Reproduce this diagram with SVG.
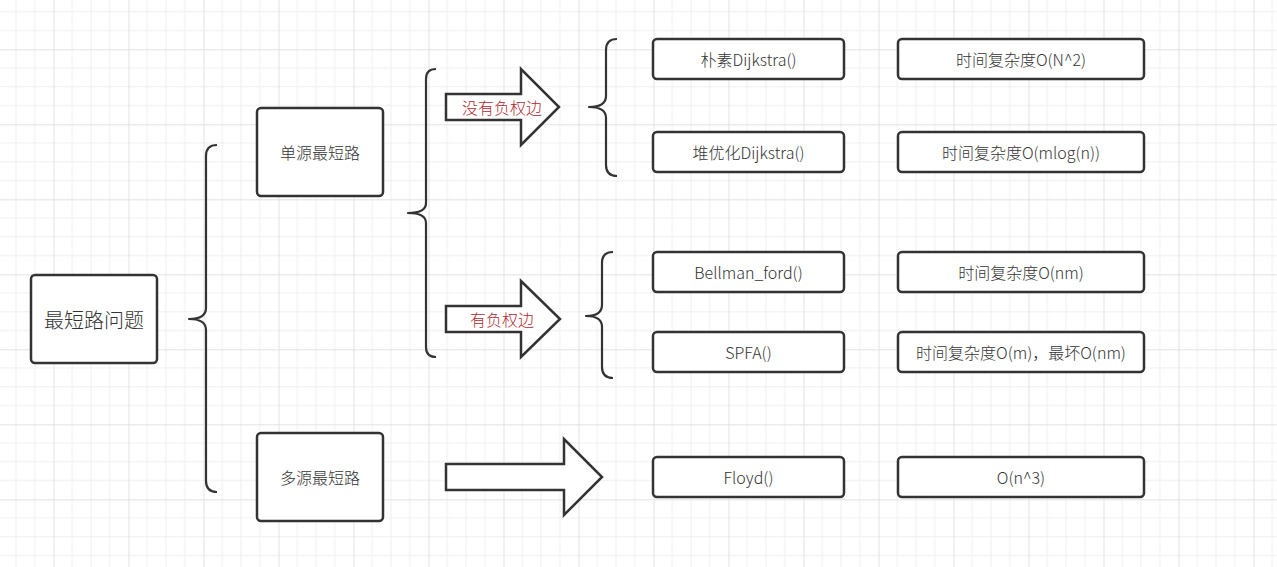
<svg xmlns="http://www.w3.org/2000/svg" width="1277" height="567" viewBox="0 0 1277 567">
<defs>
<pattern id="grid" x="-21.5" y="-25.7" width="75" height="75" patternUnits="userSpaceOnUse">
<path d="M18.75,0V75M37.5,0V75M56.25,0V75M0,18.75H75M0,37.5H75M0,56.25H75" stroke="#efefef" stroke-width="1" fill="none"/>
<path d="M0.5,0V75M0,0.5H75" stroke="#e2e2e2" stroke-width="1" fill="none"/>
</pattern>
<style>
.box{fill:#fff;stroke:#333;stroke-width:2.5}
.t{font-family:"Noto Sans CJK SC","Liberation Sans",sans-serif;font-size:16px;font-weight:300;fill:#333;text-anchor:middle;dominant-baseline:central}
.big{font-size:20px}
.red{fill:#b02a30}
.brace{fill:none;stroke:#333;stroke-width:2.2;stroke-linejoin:round}
.arrow{fill:#fff;stroke:#333;stroke-width:2.5;stroke-linejoin:miter}
</style>
</defs>
<rect width="1277" height="567" fill="#fff"/>
<rect width="1277" height="567" fill="url(#grid)"/>

<g id="connectors">
<path class="brace" d="M217,145 Q206,145 206,156 L206,308 Q206,319 189,319 Q206,319 206,330 L206,481 Q206,492 217,492"/>
<path class="brace" d="M436,69 Q426,69 426,79 L426,203 Q426,213 408,213 Q426,213 426,223 L426,347 Q426,357 436,357"/>
<path class="brace" d="M617,39 Q606,39 606,50 L606,96 Q606,107 589,107 Q606,107 606,118 L606,165 Q606,176 617,176"/>
<path class="brace" d="M613,252 Q602,252 602,263 L602,305 Q602,316 586,316 Q602,316 602,327 L602,367 Q602,378 613,378"/>
<g id="arrow1"><polygon class="arrow" points="446,94 521,94 521,69 559,107 521,145 521,120 446,120"/>
<text class="t red" x="502" y="107">没有负权边</text></g>
<g id="arrow2"><polygon class="arrow" points="446,306 521,306 521,281 560,319 521,357 521,332 446,332"/>
<text class="t red" x="502" y="319">有负权边</text></g>
<g id="arrow3"><polygon class="arrow" points="446,464 564,464 564,439 602,477 564,515 564,490 446,490"/></g>
</g>

<g id="root"><rect class="box" x="31" y="275" width="126" height="88" rx="4"/><text class="t big" x="94" y="319">最短路问题</text></g>
<g id="single"><rect class="box" x="257" y="108" width="126" height="88" rx="4"/><text class="t" x="320" y="152">单源最短路</text></g>
<g id="multi"><rect class="box" x="257" y="433" width="126" height="88" rx="4"/><text class="t" x="320" y="477">多源最短路</text></g>

<g id="dij"><rect class="box" x="653" y="39" width="191" height="40" rx="4"/><text class="t" x="748.5" y="59">朴素Dijkstra()</text></g>
<g id="dijc"><rect class="box" x="898" y="39" width="246" height="40" rx="4"/><text class="t" x="1021" y="59">时间复杂度O(N^2)</text></g>
<g id="hdij"><rect class="box" x="653" y="132" width="191" height="40" rx="4"/><text class="t" x="748.5" y="152">堆优化Dijkstra()</text></g>
<g id="hdijc"><rect class="box" x="898" y="132" width="246" height="40" rx="4"/><text class="t" x="1021" y="152">时间复杂度O(mlog(n))</text></g>
<g id="bf"><rect class="box" x="653" y="252" width="191" height="40" rx="4"/><text class="t" x="748.5" y="272">Bellman_ford()</text></g>
<g id="bfc"><rect class="box" x="898" y="252" width="246" height="40" rx="4"/><text class="t" x="1021" y="272">时间复杂度O(nm)</text></g>
<g id="spfa"><rect class="box" x="653" y="332" width="191" height="40" rx="4"/><text class="t" x="748.5" y="352">SPFA()</text></g>
<g id="spfac"><rect class="box" x="898" y="332" width="246" height="40" rx="4"/><text class="t" x="1021" y="352">时间复杂度O(m)，最坏O(nm)</text></g>
<g id="floyd"><rect class="box" x="653" y="457" width="191" height="40" rx="4"/><text class="t" x="748.5" y="477">Floyd()</text></g>
<g id="floydc"><rect class="box" x="898" y="457" width="246" height="40" rx="4"/><text class="t" x="1021" y="477">O(n^3)</text></g>
</svg>
